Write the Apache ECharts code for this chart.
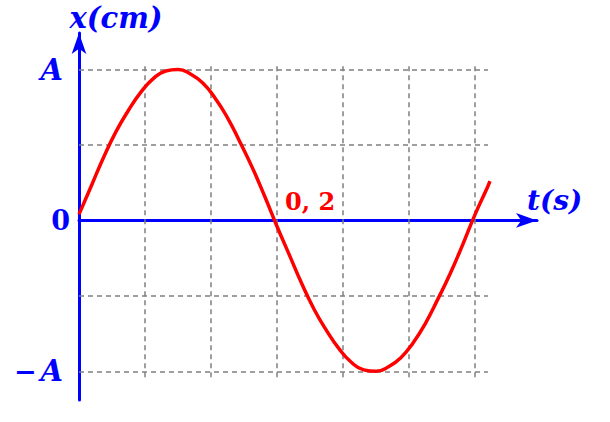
<!DOCTYPE html>
<html><head><meta charset="utf-8">
<script src="https://cdn.jsdelivr.net/npm/echarts@6/dist/echarts.min.js"></script>
<style>html,body{margin:0;padding:0;background:#fff}#c{width:610px;height:422px}</style>
</head><body><div id="c"></div>
<script>
// time (s) and displacement (in units of A)
const tValues = [0, 0.0125, 0.025, 0.0375, 0.05, 0.0625, 0.075, 0.0875, 0.1, 0.1125, 0.125, 0.1375, 0.15, 0.1625, 0.175, 0.1875,
                 0.2, 0.2125, 0.225, 0.2375, 0.25, 0.2625, 0.275, 0.2875, 0.3, 0.3125, 0.325, 0.3375, 0.35, 0.3625, 0.375, 0.3875,
                 0.4, 0.4125, 0.415];
const xValues = [0.04, 0.23, 0.42, 0.59, 0.73, 0.85, 0.94, 0.99, 1.00, 0.97, 0.91, 0.81, 0.68, 0.52, 0.35, 0.16,
                 -0.04, -0.23, -0.42, -0.59, -0.73, -0.85, -0.94, -0.99, -1.00, -0.97, -0.91, -0.81, -0.68, -0.52, -0.35, -0.16,
                 0.04, 0.22, 0.26];
// grid lines
const tGridLines = [0.2/3, 0.4/3, 0.2, 0.8/3, 1/3, 0.4];
const xGridLines = [-1, -0.5, 0.5, 1];
// tick labels
const yTickValues = [-1, 0, 1];
const yTickLabels = ['−A', '0', 'A'];
const tTickValues = [0.2];
const tTickLabels = ['0, 2'];

const BLUE = '#0000ff', RED = '#ff0000', GRAY = '#808080';
const FONT = '"DejaVu Serif", serif';
const V_EXT = 1.04, H_EXT = 0.413;

const gridMarks = [];
tGridLines.forEach(t => gridMarks.push([{coord: [t, -V_EXT]}, {coord: [t, V_EXT]}]));
xGridLines.forEach(v => gridMarks.push([{coord: [0, v]}, {coord: [H_EXT, v]}]));

function yLabel(v) {
  const s = yTickLabels[yTickValues.indexOf(v)] ?? '';
  if (s === '0') return '{u|' + s + '}';
  if (s.startsWith('−')) return '{m|−}{i|' + s.slice(1) + '}';
  return '{i|' + s + '}';
}

const chart = echarts.init(document.getElementById('c'), null, {renderer: 'svg'});
chart.setOption({
  animation: false,
  backgroundColor: '#fff',
  grid: {left: 79, right: 73, top: 33, bottom: 22, containLabel: false},
  xAxis: {
    type: 'value', min: 0, max: 0.4625,
    name: 't(s)', nameLocation: 'end', nameGap: -10,
    nameTextStyle: {color: BLUE, fontFamily: FONT, fontWeight: 'bold', fontStyle: 'italic', fontSize: 28,
                    verticalAlign: 'bottom', padding: [0, 0, 6, 0]},
    axisLine: {show: true, onZero: true, symbol: ['none', 'arrow'], symbolSize: [11, 21], lineStyle: {color: BLUE, width: 3}},
    axisTick: {show: false},
    splitLine: {show: false},
    axisLabel: {show: false}
  },
  yAxis: {
    type: 'value', min: -1.19, max: 1.242,
    name: 'x(cm)', nameLocation: 'end', nameGap: 1,
    nameTextStyle: {color: BLUE, fontFamily: FONT, fontWeight: 'bold', fontStyle: 'italic', fontSize: 29, align: 'center', padding: [0, 0, 0, 74]},
    axisLine: {show: true, onZero: true, symbol: ['none', 'arrow'], symbolSize: [11, 21], lineStyle: {color: BLUE, width: 3}},
    axisTick: {show: false},
    splitLine: {show: false},
    axisLabel: {
      show: true, customValues: yTickValues, margin: 9,
      formatter: yLabel,
      rich: {
        u: {color: BLUE, fontFamily: FONT, fontWeight: 'bold', fontSize: 27},
        m: {color: BLUE, fontFamily: FONT, fontWeight: 'bold', fontSize: 27, padding: [0, 4, 0, 0]},
        i: {color: BLUE, fontFamily: FONT, fontWeight: 'bold', fontStyle: 'italic', fontSize: 29, padding: [0, 7, 0, 0]}
      }
    }
  },
  series: [
    {
      type: 'line', data: [], z: -1, silent: true,
      markLine: {
        silent: true, symbol: 'none', label: {show: false},
        lineStyle: {color: GRAY, width: 1.5, type: [5, 4]},
        data: gridMarks
      }
    },
    {
      type: 'line', z: 5, smooth: true, showSymbol: false,
      lineStyle: {color: RED, width: 3.5},
      data: tValues.map((t, i) => [t, xValues[i]])
    },
    {
      type: 'scatter', z: 6, symbolSize: 0, silent: true,
      itemStyle: {opacity: 1, color: RED},
      data: tTickValues.map((t, i) => ({value: [t, 0], name: tTickLabels[i]})),
      label: {
        show: true, position: [8, -31], align: 'left', verticalAlign: 'top',
        formatter: p => p.name,
        color: RED, opacity: 1, fontFamily: FONT, fontWeight: 'bold', fontSize: 24
      }
    }
  ]
});
</script></body></html>
